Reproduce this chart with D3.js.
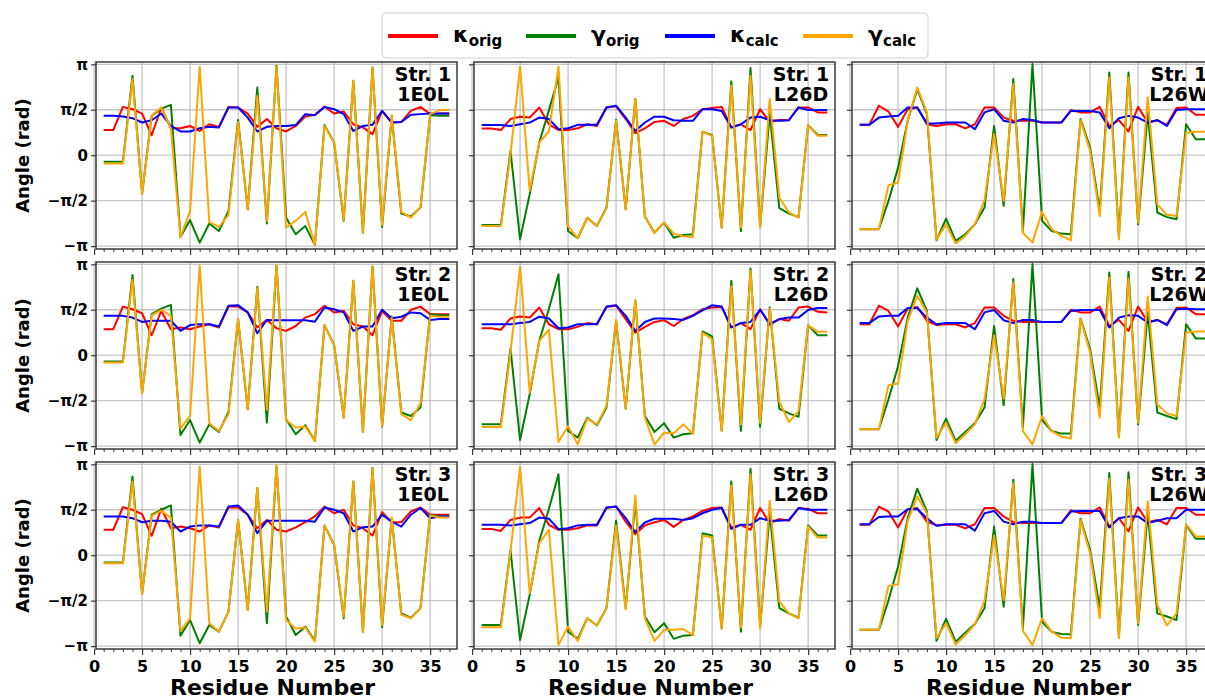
<!DOCTYPE html>
<html>
<head>
<meta charset="utf-8">
<script src="https://cdn.jsdelivr.net/npm/d3@7"></script>
<style>
  html, body { margin: 0; padding: 0; background: #fff; overflow: hidden; }
  svg { display: block; font-family: "DejaVu Sans", sans-serif; font-weight: bold; }
</style>
</head>
<body>
<div id="chart"></div>
<script>
// Grille 3x3 : lignes = structures (Str. 1..3), colonnes = systèmes (1E0L, L26D, L26W)
// Valeurs (radians), résidus 1..37.

const residues = [1,2,3,4,5,6,7,8,9,10,11,12,13,14,15,16,17,18,19,20,21,22,23,24,25,26,27,28,29,30,31,32,33,34,35,36,37]
const structures = ["Str. 1", "Str. 2", "Str. 3"]
const systems = ["1E0L", "L26D", "L26W"]
const xTicks = [0, 5, 10, 15, 20, 25, 30, 35]
const yTickLabels = ["−π", "−π/2", "0", "π/2", "π"]
const yTickValues = [-Math.PI, -Math.PI / 2, 0, Math.PI / 2, Math.PI]

// --- Str. 1 ---
const s1_1E0L_kOrig = [0.87,0.87,1.67,1.59,1.44,0.69,1.65,0.93,0.93,1.01,0.84,1.07,0.98,1.67,1.65,1.44,0.98,1.25,0.93,0.82,1.01,1.34,1.40,1.68,1.44,1.51,1.07,0.96,0.73,1.53,1.13,1.15,1.53,1.67,1.42,1.44,1.44]
const s1_1E0L_gOrig = [-0.23,-0.23,-0.23,2.75,-1.33,1.36,1.61,1.74,-2.83,-2.24,-3.02,-2.36,-2.62,-1.93,1.22,-1.87,2.34,-2.36,3.09,-2.16,-2.73,-2.45,-3.10,1.04,0.44,-2.27,2.57,-2.68,3.03,-2.48,1.34,-2.02,-2.12,-1.81,1.38,1.36,1.36]
const s1_1E0L_kCalc = [1.36,1.36,1.34,1.28,1.13,1.21,1.44,1.01,0.82,0.82,0.93,0.98,0.96,1.65,1.65,1.30,0.82,0.98,1.01,1.01,1.04,1.42,1.38,1.67,1.59,1.42,0.84,1.01,1.05,1.53,1.13,1.15,1.40,1.42,1.44,1.44,1.44]
const s1_1E0L_gCalc = [-0.29,-0.29,-0.29,2.63,-1.33,1.36,1.65,0.93,-2.83,-1.93,3.06,-2.31,-2.48,-2.06,1.15,-1.87,2.05,-2.27,3.06,-2.50,-2.27,-1.96,-3.10,1.01,0.44,-2.25,2.57,-2.68,3.03,-2.41,1.38,-1.96,-2.16,-1.79,1.42,1.56,1.56]

const s1_L26D_kOrig = [0.92,0.92,0.87,1.25,1.33,1.30,1.65,1.07,0.87,0.87,0.93,1.07,1.01,1.65,1.69,1.25,0.76,0.93,1.15,1.19,1.01,1.25,1.36,1.59,1.63,1.67,0.96,1.07,0.87,1.59,1.15,1.22,1.21,1.65,1.65,1.48,1.48]
const s1_L26D_gOrig = [-2.41,-2.41,-2.41,0.15,-2.91,-1.35,0.44,1.55,2.69,-2.62,-2.87,-2.16,-2.45,-1.81,1.22,-1.87,1.94,-2.12,-2.68,-2.33,-2.85,-2.76,-2.73,0.81,0.69,-2.50,2.55,-2.62,3.01,-2.48,1.44,-1.83,-2.02,-2.14,1.04,0.70,0.70]
const s1_L26D_kCalc = [1.04,1.04,1.04,1.01,1.07,1.13,1.30,1.25,0.90,0.93,1.05,1.05,1.05,1.65,1.71,1.30,0.84,1.13,1.33,1.33,1.21,1.19,1.19,1.59,1.59,1.53,0.96,1.07,1.30,1.33,1.21,1.19,1.21,1.65,1.56,1.56,1.56]
const s1_L26D_gCalc = [-2.45,-2.45,-2.45,0.03,3.06,-1.23,0.44,0.82,3.06,-2.45,-2.87,-2.16,-2.45,-1.83,1.19,-1.87,1.94,-2.12,-2.68,-2.33,-2.71,-2.80,-2.83,0.81,0.67,-2.50,2.40,-2.50,2.75,-2.50,1.94,-1.46,-1.98,-2.16,1.04,0.67,0.67]

const s1_L26W_kOrig = [1.05,1.05,1.71,1.51,0.98,1.59,1.65,1.07,1.01,1.07,1.07,0.93,1.07,1.65,1.65,1.30,1.19,1.19,1.19,1.13,1.13,1.13,1.56,1.48,1.48,1.67,1.01,1.21,0.82,1.67,1.13,1.21,1.05,1.63,1.65,1.40,1.40]
const s1_L26W_gOrig = [-2.56,-2.56,-2.56,-1.58,-0.43,1.19,2.28,1.42,-2.94,-2.19,-2.96,-2.73,-2.39,-1.81,1.01,-1.75,2.63,-2.62,3.15,-2.27,-2.62,-2.71,-2.73,1.25,0.27,-1.93,2.86,-2.79,2.86,-2.39,1.44,-1.98,-2.14,-2.21,1.07,0.55,0.55]
const s1_L26W_kCalc = [1.05,1.05,1.30,1.34,1.36,1.65,1.65,1.10,1.10,1.13,1.13,1.13,0.90,1.48,1.59,1.19,1.13,1.25,1.22,1.13,1.13,1.13,1.53,1.53,1.53,1.48,0.93,1.28,1.36,1.30,1.13,1.21,1.01,1.56,1.59,1.59,1.59]
const s1_L26W_gCalc = [-2.56,-2.56,-2.56,-1.04,-0.95,1.19,2.34,1.48,-2.91,-2.39,-3.05,-2.79,-2.39,-1.55,0.73,-1.58,2.46,-2.68,-3.02,-1.95,-2.56,-2.79,-2.94,1.21,0.15,-2.10,2.69,-2.91,2.69,-2.33,2.00,-1.70,-2.06,-2.10,0.78,0.81,0.81]

// --- Str. 2 ---
const s2_1E0L_kOrig = [0.90,0.90,1.68,1.59,1.45,0.69,1.53,0.90,0.96,0.90,0.99,1.07,0.96,1.68,1.68,1.48,0.96,1.22,0.93,0.84,1.01,1.30,1.42,1.71,1.48,1.53,1.07,0.99,0.69,1.53,1.19,1.19,1.57,1.68,1.42,1.42,1.42]
const s2_1E0L_gOrig = [-0.22,-0.22,-0.22,2.77,-1.31,1.42,1.61,1.74,-2.76,-2.24,-3.02,-2.39,-2.65,-1.96,1.25,-1.87,2.36,-2.33,3.09,-2.21,-2.73,-2.42,-2.96,1.04,0.35,-2.16,2.57,-2.65,3.07,-2.47,1.34,-1.98,-2.10,-1.81,1.42,1.38,1.38]
const s2_1E0L_kCalc = [1.36,1.36,1.36,1.30,1.15,1.19,1.19,1.19,0.84,1.04,1.07,1.07,0.99,1.71,1.73,1.48,0.76,1.22,1.21,1.21,1.21,1.21,1.16,1.65,1.59,1.48,0.84,0.99,0.99,1.57,1.28,1.33,1.48,1.45,1.22,1.25,1.25]
const s2_1E0L_gCalc = [-0.25,-0.25,-0.25,2.61,-1.31,1.38,1.57,1.36,-2.54,-2.10,3.11,-2.35,-2.62,-2.04,1.25,-1.87,2.31,-1.89,3.11,-2.24,-2.50,-2.47,-2.96,1.04,0.35,-2.16,2.57,-2.65,3.07,-2.45,1.30,-2.04,-2.24,-1.66,1.36,1.33,1.33]

const s2_L26D_kOrig = [0.93,0.93,0.88,1.27,1.34,1.30,1.65,1.07,0.90,0.90,0.98,1.11,1.07,1.67,1.71,1.25,0.78,0.98,1.15,1.21,1.01,1.25,1.38,1.59,1.65,1.67,0.96,1.11,0.90,1.59,1.07,1.25,1.19,1.65,1.68,1.50,1.48]
const s2_L26D_gOrig = [-2.39,-2.39,-2.39,0.23,-2.93,-1.35,0.50,1.60,2.80,-2.62,-2.85,-2.16,-2.42,-1.81,1.19,-1.85,1.88,-2.10,-2.65,-2.35,-2.85,-2.73,-2.70,0.82,0.65,-2.62,2.57,-2.62,3.00,-2.47,1.65,-1.85,-2.01,-2.13,1.04,0.69,0.69]
const s2_L26D_kCalc = [1.07,1.07,1.07,1.07,1.11,1.15,1.33,1.27,0.93,0.96,1.07,1.07,1.07,1.68,1.73,1.36,0.84,1.15,1.27,1.27,1.25,1.22,1.36,1.55,1.73,1.68,0.96,1.11,1.15,1.57,1.07,1.25,1.30,1.30,1.56,1.63,1.63]
const s2_L26D_gCalc = [-2.48,-2.48,-2.48,0.09,3.07,-1.29,0.50,0.88,-3.00,-2.45,-3.08,-2.19,-2.39,-1.75,1.22,-1.85,1.91,-2.16,-3.08,-2.68,-2.70,-2.39,-2.71,0.78,0.55,-2.62,2.38,-2.39,2.92,-2.33,1.61,-1.61,-2.31,-1.93,1.04,0.81,0.81]

const s2_L26W_kOrig = [1.07,1.07,1.71,1.53,0.99,1.61,1.67,1.19,1.04,1.07,1.07,0.96,1.11,1.65,1.65,1.36,1.19,1.15,1.15,1.15,1.15,1.15,1.57,1.48,1.48,1.68,1.01,1.22,0.84,1.68,1.15,1.22,1.07,1.63,1.65,1.42,1.42]
const s2_L26W_gOrig = [-2.56,-2.56,-2.56,-1.52,-0.37,1.30,2.31,1.53,-2.93,-2.19,-2.96,-2.65,-2.35,-1.81,1.01,-1.73,2.63,-2.50,3.15,-2.24,-2.62,-2.71,-2.71,1.27,0.21,-1.81,2.86,-2.79,2.88,-2.39,1.48,-1.98,-2.10,-2.21,1.07,0.58,0.58]
const s2_L26W_kCalc = [1.11,1.11,1.34,1.36,1.36,1.63,1.63,1.30,1.07,1.11,1.11,1.11,0.90,1.48,1.56,1.21,1.11,1.22,1.22,1.15,1.15,1.15,1.53,1.56,1.56,1.56,0.96,1.30,1.38,1.36,1.13,1.22,1.04,1.59,1.61,1.59,1.59]
const s2_L26W_gCalc = [-2.56,-2.56,-2.56,-1.04,-0.98,1.19,2.05,1.48,-2.85,-2.33,-3.04,-2.73,-2.39,-1.52,0.69,-1.50,2.51,-2.62,-3.08,-2.10,-2.62,-2.81,-2.88,1.25,0.09,-2.16,2.69,-2.85,2.65,-2.33,2.03,-1.70,-2.01,-2.10,0.78,0.82,0.82]

// --- Str. 3 ---
const s3_1E0L_kOrig = [0.88,0.88,1.66,1.57,1.42,0.67,1.61,0.93,0.99,0.93,0.82,1.03,0.96,1.66,1.65,1.40,0.93,1.22,0.88,0.82,0.96,1.14,1.34,1.68,1.45,1.57,1.03,0.93,0.68,1.49,1.14,1.14,1.51,1.65,1.40,1.40,1.40]
const s3_1E0L_gOrig = [-0.25,-0.25,-0.25,2.72,-1.34,1.40,1.57,1.72,-2.78,-2.24,-3.04,-2.41,-2.64,-1.95,1.22,-1.89,2.32,-2.35,3.07,-2.12,-2.76,-2.47,-2.96,1.03,0.36,-2.18,2.55,-2.64,3.01,-2.49,1.28,-2.01,-2.16,-1.83,1.40,1.34,1.34]
const s3_1E0L_kCalc = [1.34,1.34,1.34,1.28,1.14,1.19,1.19,1.16,0.82,0.99,1.03,1.03,0.99,1.68,1.72,1.40,0.76,1.19,1.19,1.19,1.19,1.19,1.16,1.65,1.57,1.45,0.82,0.97,0.99,1.40,1.16,0.99,1.40,1.63,1.28,1.34,1.34]
const s3_1E0L_gCalc = [-0.28,-0.28,-0.28,2.55,-1.34,1.37,1.53,1.30,-2.62,-2.18,3.07,-2.35,-2.64,-1.95,1.22,-1.89,2.32,-1.95,3.10,-2.24,-2.53,-2.50,-2.99,1.03,0.36,-2.12,2.55,-2.66,2.99,-2.41,1.30,-2.06,-2.18,-1.83,1.37,1.30,1.30]

const s3_L26D_kOrig = [0.91,0.91,0.84,1.22,1.30,1.30,1.63,1.05,0.88,0.88,0.93,1.03,1.03,1.63,1.68,1.16,0.73,1.03,1.14,1.22,0.98,1.22,1.34,1.53,1.63,1.65,0.96,1.05,0.88,1.63,1.11,1.25,1.19,1.63,1.60,1.45,1.45]
const s3_L26D_gOrig = [-2.41,-2.41,-2.41,0.18,-2.93,-1.37,0.50,1.60,2.80,-2.64,-2.89,-2.18,-2.43,-1.83,1.19,-1.83,1.86,-2.12,-2.66,-2.35,-2.89,-2.78,-2.76,0.76,0.68,-2.53,2.55,-2.64,2.99,-2.47,1.45,-1.83,-2.01,-2.16,1.03,0.68,0.68]
const s3_L26D_kCalc = [1.05,1.05,1.05,1.03,1.07,1.11,1.30,1.26,0.90,0.93,1.03,1.05,1.05,1.65,1.68,1.28,0.80,1.13,1.26,1.26,1.26,1.22,1.28,1.45,1.57,1.63,0.91,1.05,1.05,1.28,1.19,1.19,1.22,1.63,1.57,1.57,1.57]
const s3_L26D_gCalc = [-2.49,-2.49,-2.49,0.13,3.07,-1.31,0.42,0.88,-3.10,-2.47,-2.96,-2.18,-2.43,-1.83,1.03,-1.87,2.06,-2.18,-2.96,-2.58,-2.58,-2.55,-2.76,0.68,0.61,-2.53,2.41,-2.50,2.80,-2.53,1.88,-1.60,-2.01,-2.18,0.99,0.61,0.61]

const s3_L26W_kOrig = [1.05,1.05,1.68,1.51,0.96,1.59,1.63,1.16,1.03,1.05,1.05,0.93,1.07,1.63,1.63,1.34,1.14,1.11,1.11,1.11,1.11,1.11,1.55,1.45,1.45,1.65,0.99,1.28,0.82,1.65,1.14,1.22,1.07,1.63,1.63,1.40,1.40]
const s3_L26W_gOrig = [-2.58,-2.58,-2.58,-1.56,-0.39,1.28,2.30,1.51,-2.96,-2.20,-2.99,-2.68,-2.38,-1.83,0.99,-1.78,2.61,-2.53,3.15,-2.30,-2.65,-2.72,-2.73,1.26,0.18,-1.83,2.84,-2.81,2.87,-2.41,1.45,-2.01,-2.12,-2.24,1.05,0.57,0.57]
const s3_L26W_kCalc = [1.07,1.07,1.32,1.34,1.34,1.59,1.60,1.28,1.02,1.07,1.07,1.07,0.85,1.45,1.53,1.16,1.07,1.16,1.16,1.11,1.11,1.11,1.51,1.53,1.53,1.53,0.96,1.28,1.34,1.34,1.11,1.19,1.28,1.28,1.57,1.57,1.57]
const s3_L26W_gCalc = [-2.58,-2.58,-2.58,-1.06,-1.00,1.19,2.03,1.45,-2.87,-2.35,-3.09,-2.76,-2.39,-1.58,0.68,-1.55,2.49,-2.62,-3.10,-2.18,-2.64,-2.85,-2.87,1.22,0.07,-2.18,2.64,-2.87,2.61,-2.35,1.86,-1.72,-2.43,-2.01,1.07,0.65,0.65]

// Séries dans l'ordre de tracé (= ordre de la légende)
const seriesKeys = ["kOrig", "gOrig", "kCalc", "gCalc"]
const seriesColors = { kOrig: "#ff0000", gOrig: "#008000", kCalc: "#0000ff", gCalc: "#ffa500" }
const seriesSymbol = { kOrig: ["κ", "orig"], gOrig: ["γ", "orig"], kCalc: ["κ", "calc"], gCalc: ["γ", "calc"] }

const panelData = {
  "0_0": { kOrig: s1_1E0L_kOrig, gOrig: s1_1E0L_gOrig, kCalc: s1_1E0L_kCalc, gCalc: s1_1E0L_gCalc },
  "0_1": { kOrig: s1_L26D_kOrig, gOrig: s1_L26D_gOrig, kCalc: s1_L26D_kCalc, gCalc: s1_L26D_gCalc },
  "0_2": { kOrig: s1_L26W_kOrig, gOrig: s1_L26W_gOrig, kCalc: s1_L26W_kCalc, gCalc: s1_L26W_gCalc },
  "1_0": { kOrig: s2_1E0L_kOrig, gOrig: s2_1E0L_gOrig, kCalc: s2_1E0L_kCalc, gCalc: s2_1E0L_gCalc },
  "1_1": { kOrig: s2_L26D_kOrig, gOrig: s2_L26D_gOrig, kCalc: s2_L26D_kCalc, gCalc: s2_L26D_gCalc },
  "1_2": { kOrig: s2_L26W_kOrig, gOrig: s2_L26W_gOrig, kCalc: s2_L26W_kCalc, gCalc: s2_L26W_gCalc },
  "2_0": { kOrig: s3_1E0L_kOrig, gOrig: s3_1E0L_gOrig, kCalc: s3_1E0L_kCalc, gCalc: s3_1E0L_gCalc },
  "2_1": { kOrig: s3_L26D_kOrig, gOrig: s3_L26D_gOrig, kCalc: s3_L26D_kCalc, gCalc: s3_L26D_gCalc },
  "2_2": { kOrig: s3_L26W_kOrig, gOrig: s3_L26W_gOrig, kCalc: s3_L26W_kCalc, gCalc: s3_L26W_gCalc },
}

// --- Mise en page ---
const W = 1205, H = 698
const colLeft = [96, 474, 852]
const rowTop = [62, 262, 462]
const panelW = 361, panelH = 187

const svg = d3.select("#chart").append("svg")
  .attr("width", W).attr("height", H)
  .attr("viewBox", `0 0 ${W} ${H}`)

const gridColor = "#b8b8b8"
const spineColor = "#3a3a3a"

for (let r = 0; r < 3; r++) {
  for (let c = 0; c < 3; c++) {
    const x = d3.scaleLinear().domain([0.2, 37.8]).range([colLeft[c], colLeft[c] + panelW])
    const y = d3.scaleLinear().domain([-Math.PI - 0.1, Math.PI + 0.08]).range([rowTop[r] + panelH, rowTop[r]])
    const g = svg.append("g")

    // grille
    g.append("g").selectAll("line").data(xTicks).join("line")
      .attr("x1", d => x(d)).attr("x2", d => x(d))
      .attr("y1", rowTop[r]).attr("y2", rowTop[r] + panelH)
      .attr("stroke", gridColor).attr("stroke-width", 1.3).attr("opacity", 0.8)
    g.append("g").selectAll("line").data(yTickValues).join("line")
      .attr("x1", colLeft[c]).attr("x2", colLeft[c] + panelW)
      .attr("y1", d => y(d)).attr("y2", d => y(d))
      .attr("stroke", gridColor).attr("stroke-width", 1.3).attr("opacity", 0.8)

    // axes (ticks ; libellés seulement en bas / à gauche)
    const xAxis = d3.axisBottom(x).tickValues(xTicks).tickSize(6)
      .tickFormat(r === 2 ? d3.format("d") : "")
    const xg = g.append("g").attr("transform", `translate(0,${rowTop[r] + panelH})`).call(xAxis)
    xg.select(".domain").remove()
    xg.selectAll("line").attr("stroke", spineColor).attr("stroke-width", 1.2)
    xg.selectAll("text").attr("font-size", 16).attr("font-weight", "bold")
      .attr("font-family", "DejaVu Sans").attr("fill", "#000").attr("dy", "0.85em")
    const xMinor = d3.axisBottom(x).tickValues(d3.range(0, 38)).tickSize(3).tickFormat("")
    const xmg = g.append("g").attr("transform", `translate(0,${rowTop[r] + panelH})`).call(xMinor)
    xmg.select(".domain").remove()
    xmg.selectAll("line").attr("stroke", spineColor).attr("stroke-width", 1)

    const yAxis = d3.axisLeft(y).tickValues(yTickValues).tickSize(5)
      .tickFormat((d, i) => c === 0 ? yTickLabels[i] : "")
    const yg = g.append("g").attr("transform", `translate(${colLeft[c]},0)`).call(yAxis)
    yg.select(".domain").remove()
    yg.selectAll("line").attr("stroke", spineColor).attr("stroke-width", 1.2)
    yg.selectAll("text").attr("font-size", 15).attr("font-weight", "bold")
      .attr("font-family", "DejaVu Sans").attr("fill", "#000").attr("x", -8)

    // courbes
    const data = panelData[`${r}_${c}`]
    const line = d3.line().x((d, i) => x(residues[i])).y(d => y(d))
    for (const key of seriesKeys) {
      g.append("path").datum(data[key])
        .attr("d", line)
        .attr("fill", "none").attr("stroke", seriesColors[key])
        .attr("stroke-width", 2).attr("stroke-linejoin", "round")
    }

    // cadre
    g.append("rect")
      .attr("x", colLeft[c]).attr("y", rowTop[r])
      .attr("width", panelW).attr("height", panelH)
      .attr("fill", "none").attr("stroke", spineColor).attr("stroke-width", 1.5)

    // étiquette du panneau (coupée à droite pour la 3e colonne, comme l'original)
    const lx = colLeft[c] + panelW - 34
    const lab = g.append("text").attr("text-anchor", "middle")
      .attr("font-size", 19).attr("font-weight", "bold").attr("fill", "#000")
    lab.append("tspan").attr("x", lx).attr("y", rowTop[r] + 19).text(structures[r])
    lab.append("tspan").attr("x", lx).attr("y", rowTop[r] + 39).text(systems[c])
  }
}

// libellés d'axes
for (let r = 0; r < 3; r++) {
  svg.append("text")
    .attr("transform", `translate(29,${rowTop[r] + panelH / 2}) rotate(-90)`)
    .attr("text-anchor", "middle").attr("font-size", 18).attr("font-weight", "bold")
    .text("Angle (rad)")
}
for (let c = 0; c < 3; c++) {
  svg.append("text")
    .attr("x", colLeft[c] + panelW / 2 - 4).attr("y", 695)
    .attr("text-anchor", "middle").attr("font-size", 22).attr("font-weight", "bold")
    .text("Residue Number")
}

// légende
const legend = svg.append("g")
legend.append("rect")
  .attr("x", 382).attr("y", 13).attr("width", 546).attr("height", 45).attr("rx", 4)
  .attr("fill", "#fff").attr("stroke", "#d0d0d0").attr("stroke-width", 1)
const legendX = [388, 526, 665, 803]
seriesKeys.forEach((key, i) => {
  legend.append("line")
    .attr("x1", legendX[i]).attr("x2", legendX[i] + 50).attr("y1", 36).attr("y2", 36)
    .attr("stroke", seriesColors[key]).attr("stroke-width", 4)
  const t = legend.append("text").attr("x", legendX[i] + 65).attr("y", 42)
    .attr("font-size", 22).attr("font-weight", "bold")
  t.append("tspan").text(seriesSymbol[key][0])
  t.append("tspan").attr("font-size", 15).attr("dy", 4).text(seriesSymbol[key][1])
})
</script>
</body>
</html>
